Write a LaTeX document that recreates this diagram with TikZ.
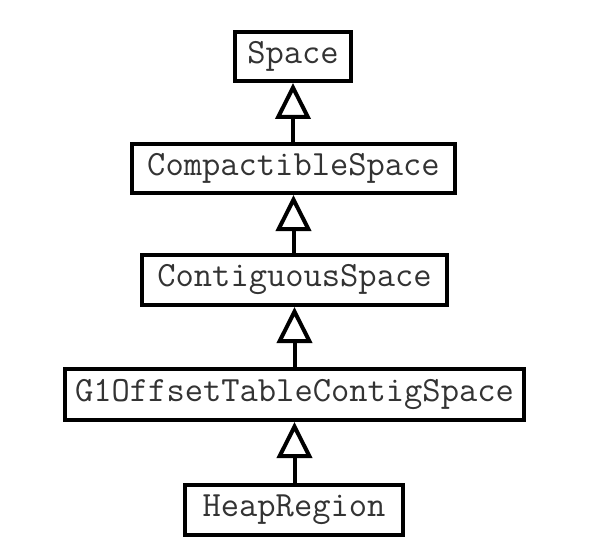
\documentclass[tikz,border=0pt]{standalone}
\usepackage{fontspec}
\usetikzlibrary{arrows.meta}
\begin{document}
\begin{tikzpicture}[x=1pt,y=-1pt,
  cls/.style={draw=black, line width=4pt, fill=white, inner sep=0pt,
    font=\ttfamily\fontsize{35.5}{35.5}\selectfont, text=black!80},
  inh/.style={line width=4pt, draw=black,
    -{Triangle[open, length=36pt, width=35pt, line width=4pt]}}]
\useasboundingbox (0,0) rectangle (602,559);
\node[cls, minimum width=116pt, minimum height=49pt] (space) at (293,56.5) {Space};
\node[cls, minimum width=323pt, minimum height=49pt] (compact) at (293.5,168.5) {CompactibleSpace};
\node[cls, minimum width=305pt, minimum height=50pt] (contig) at (294.5,280) {ContiguousSpace};
\node[cls, minimum width=459pt, minimum height=51pt] (g1) at (294.5,394.5) {G1OffsetTableContigSpace};
\node[cls, minimum width=218pt, minimum height=50pt] (heap) at (294,510) {HeapRegion};
\draw[inh] (compact.north -| space.south) -- (space.south);
\draw[inh] (contig.north -| compact.south) -- (compact.south);
\draw[inh] (g1.north -| contig.south) -- (contig.south);
\draw[inh] (heap.north -| g1.south) -- (g1.south);
\end{tikzpicture}
\end{document}
